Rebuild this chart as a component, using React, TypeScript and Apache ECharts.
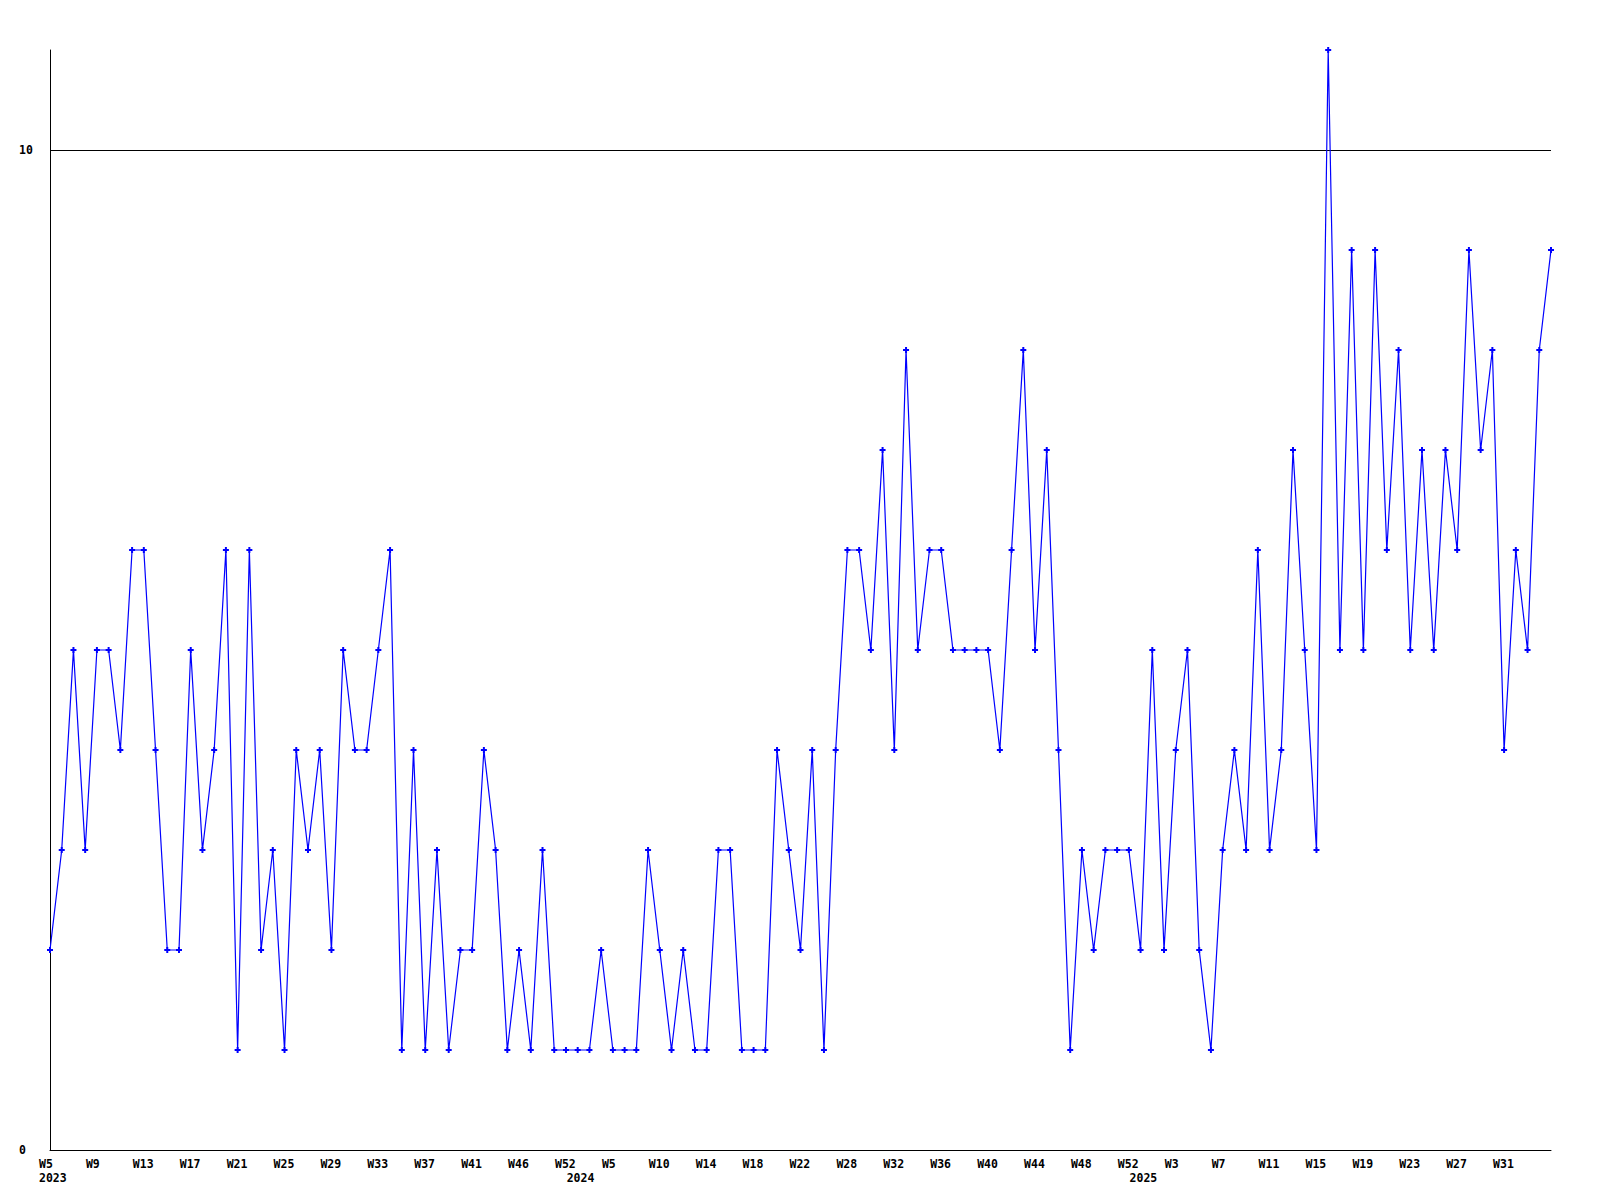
import React, { useEffect, useRef } from "react";
import * as echarts from "echarts";

const weeks2023 = [
  "W5","W6","W7","W8","W9","W10","W11","W12","W13","W14","W15","W16","W17","W18","W19","W20",
  "W21","W22","W23","W24","W25","W26","W27","W28","W29","W30","W31","W32","W33","W34","W35","W36",
  "W37","W38","W39","W40","W41","W42","W43","W44","W46","W47","W48","W50","W52",
];
const weeks2024 = [
  "W1","W2","W3","W5","W6","W7","W9","W10","W11","W12","W13","W14","W15","W16","W17","W18",
  "W19","W20","W21","W22","W24","W25","W27","W28","W29","W30","W31","W32","W33","W34","W35","W36",
  "W37","W38","W39","W40","W41","W42","W43","W44","W45","W46","W47","W48","W49","W50","W51","W52",
];
const weeks2025 = [
  "W0","W1","W2","W3","W4","W5","W6","W7","W8","W9","W10","W11","W12","W13","W14","W15",
  "W16","W17","W18","W19","W20","W21","W22","W23","W24","W25","W26","W27","W28","W29","W30","W31",
  "W32","W33","W34","W35",
];
const weeks = [...weeks2023, ...weeks2024, ...weeks2025];

const yearNames = ["2023", "2024", "2025"];
const yearStartIndex = [0, weeks2023.length, weeks2023.length + weeks2024.length];

const values = [
  2, 3, 5, 3, 5, 5, 4, 6, 6, 4,
  2, 2, 5, 3, 4, 6, 1, 6, 2, 3,
  1, 4, 3, 4, 2, 5, 4, 4, 5, 6,
  1, 4, 1, 3, 1, 2, 2, 4, 3, 1,
  2, 1, 3, 1, 1, 1, 1, 2, 1, 1,
  1, 3, 2, 1, 2, 1, 1, 3, 3, 1,
  1, 1, 4, 3, 2, 4, 1, 4, 6, 6,
  5, 7, 4, 8, 5, 6, 6, 5, 5, 5,
  5, 4, 6, 8, 5, 7, 4, 1, 3, 2,
  3, 3, 3, 2, 5, 2, 4, 5, 2, 1,
  3, 4, 3, 6, 3, 4, 7, 5, 3, 11,
  5, 9, 5, 9, 6, 8, 5, 7, 5, 7,
  6, 9, 7, 8, 4, 6, 5, 8, 9,
];

const yTickLabels = [0, 10];
const referenceLine = 10;
const yMax = 11;
const lastLabelIndex = 124;

export default function App() {
  const ref = useRef<HTMLDivElement>(null);
  useEffect(() => {
    if (!ref.current) return;
    const chart = echarts.init(ref.current, null, { renderer: "svg" });
    const font = {
      fontFamily: "DejaVu Sans Mono",
      fontWeight: "bold" as const,
      fontSize: 11.5,
      color: "#000",
    };
    const gridBox = { top: 50, width: 1501, height: 1100 };
    chart.setOption({
      animation: false,
      backgroundColor: "#fff",
      grid: [
        { left: 50, ...gridBox },
        { left: 39, ...gridBox },
      ],
      xAxis: [
        {
          type: "category",
          gridIndex: 0,
          position: "bottom",
          data: weeks,
          boundaryGap: false,
          axisLine: { lineStyle: { color: "#000", width: 1 } },
          axisTick: { show: false },
          axisLabel: { show: false },
          splitLine: { show: false },
        },
        {
          type: "category",
          gridIndex: 1,
          position: "bottom",
          data: weeks,
          boundaryGap: false,
          axisLine: { show: false },
          axisTick: { show: false },
          splitLine: { show: false },
          axisLabel: {
            ...font,
            align: "left",
            margin: 8,
            interval: (i: number) => i % 4 === 0 && i <= lastLabelIndex,
          },
        },
        {
          type: "category",
          gridIndex: 1,
          position: "bottom",
          offset: 0,
          data: weeks,
          boundaryGap: false,
          axisLine: { show: false },
          axisTick: { show: false },
          splitLine: { show: false },
          axisLabel: {
            ...font,
            align: "left",
            margin: 22,
            interval: (i: number) => yearStartIndex.includes(i),
            formatter: (_v: string, i: number) => {
              const k = yearStartIndex.indexOf(i);
              return k >= 0 ? yearNames[k] : "";
            },
          },
        },
      ],
      yAxis: [
        {
          type: "value",
          gridIndex: 0,
          min: 0,
          max: yMax,
          interval: 10,
          axisLine: { show: true, lineStyle: { color: "#000", width: 1 } },
          axisTick: { show: false },
          splitLine: { show: false },
          axisLabel: {
            ...font,
            align: "left",
            margin: 31,
            formatter: (v: number) => (yTickLabels.includes(v) ? String(v) : ""),
          },
        },
        { type: "value", gridIndex: 1, show: false, min: 0, max: yMax },
      ],
      series: [
        {
          type: "line",
          xAxisIndex: 0,
          yAxisIndex: 0,
          data: values,
          symbol: "path://M2,0H4V2H6V4H4V6H2V4H0V2H2Z",
          symbolSize: 6,
          showSymbol: true,
          showAllSymbol: true,
          lineStyle: { color: "#0000ff", width: 1.2 },
          itemStyle: { color: "#0000ff", borderWidth: 0 },
          z: 3,
          markLine: {
            silent: true,
            symbol: "none",
            label: { show: false },
            lineStyle: { color: "#000", width: 1, type: "solid" },
            z: 1,
            data: [{ yAxis: referenceLine }],
          },
        },
      ],
    });
    return () => chart.dispose();
  }, []);
  return (
    <div
      ref={ref}
      style={{ position: "absolute", left: 0, top: 0, width: 1600, height: 1200, background: "#fff" }}
    />
  );
}
